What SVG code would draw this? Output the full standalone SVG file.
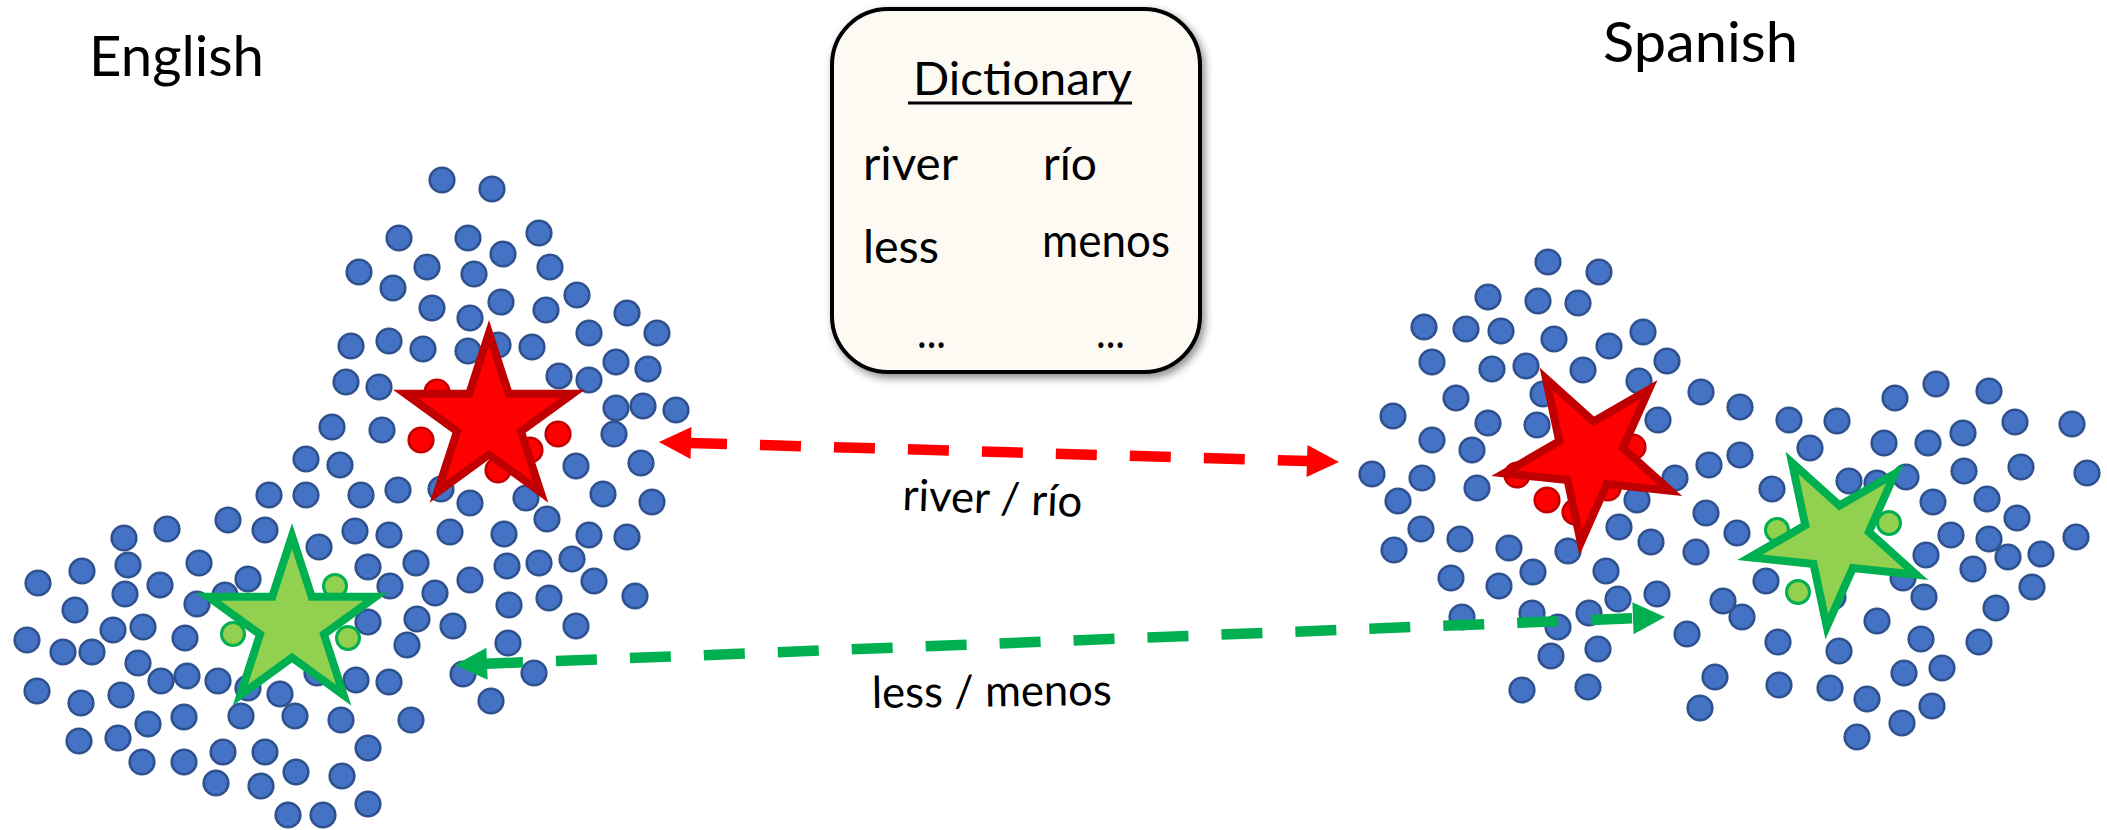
<svg xmlns="http://www.w3.org/2000/svg" xmlns:xlink="http://www.w3.org/1999/xlink" width="2107" height="830" viewBox="0 0 2107 830">
<style>
.d{fill:#4472C4;stroke:#2F528F;stroke-width:2.6}
.rc{fill:#FF0000;stroke:#C00000;stroke-width:2.6}
.gc{fill:#92D050;stroke:#00B050;stroke-width:3}
.rs{fill:#FF0000;stroke:#C00000;stroke-width:8;stroke-linejoin:miter;stroke-miterlimit:10}
.gs{fill:#92D050;stroke:#00B050;stroke-width:8;stroke-linejoin:miter;stroke-miterlimit:10}
text{font-family:Lato,"Open Sans","Liberation Sans",sans-serif;fill:#000}
.title{font-size:57px}
.dict{font-size:47px}
.lbl{font-size:44px}
.dash{fill:none;stroke-width:10.5;stroke-dasharray:41 33;stroke-dashoffset:4}
</style>
<defs>
<path id="star" d="M0,-88 L19.75,-27.18 L83.7,-27.19 L31.96,10.38 L51.73,71.19 L0,33.6 L-51.73,71.19 L-31.96,10.38 L-83.7,-27.19 L-19.75,-27.18 Z"/>
<marker id="hr" markerUnits="userSpaceOnUse" orient="auto-start-reverse" refX="0" refY="0" markerWidth="40" markerHeight="40" overflow="visible"><path d="M-1,-16 L31,0 L-1,16 Z" fill="#FF0000"/></marker>
<marker id="hg" markerUnits="userSpaceOnUse" orient="auto-start-reverse" refX="0" refY="0" markerWidth="40" markerHeight="40" overflow="visible"><path d="M-1,-16 L31,0 L-1,16 Z" fill="#00B050"/></marker>
<filter id="sh" x="-10%" y="-10%" width="130%" height="130%"><feDropShadow dx="3" dy="4" stdDeviation="4" flood-color="#000" flood-opacity="0.45"/></filter>
</defs>
<rect width="2107" height="830" fill="#fff"/>

<g id="english-title"><text class="title" x="89" y="76" textLength="175" lengthAdjust="spacingAndGlyphs">English</text></g>
<g id="spanish-title"><text class="title" x="1603" y="62" textLength="195" lengthAdjust="spacingAndGlyphs">Spanish</text></g>

<g id="dictionary">
<rect x="832" y="9" width="368" height="363" rx="56" ry="56" fill="#FDFAF4" stroke="#000" stroke-width="4" filter="url(#sh)"/>
<text class="dict" x="913" y="95" textLength="219" lengthAdjust="spacingAndGlyphs">Dictionary</text>
<rect x="908" y="101.5" width="224" height="3" fill="#000"/>
<text class="dict" x="863" y="180" textLength="95" lengthAdjust="spacingAndGlyphs">river</text>
<text class="dict" x="1043" y="180" textLength="54" lengthAdjust="spacingAndGlyphs">río</text>
<text class="dict" x="863" y="263" textLength="76" lengthAdjust="spacingAndGlyphs">less</text>
<text class="dict" x="1042" y="257" textLength="128" lengthAdjust="spacingAndGlyphs">menos</text>
<text class="dict" x="917" y="348" textLength="29" lengthAdjust="spacingAndGlyphs">...</text>
<text class="dict" x="1096" y="348" textLength="29" lengthAdjust="spacingAndGlyphs">...</text>
</g>

<g id="english-cloud">
<circle class="d" r="12.3" cx="442" cy="180"/><circle class="d" r="12.3" cx="492" cy="189"/><circle class="d" r="12.3" cx="399" cy="238"/><circle class="d" r="12.3" cx="468" cy="238"/><circle class="d" r="12.3" cx="539" cy="233"/><circle class="d" r="12.3" cx="503" cy="254"/><circle class="d" r="12.3" cx="359" cy="272"/><circle class="d" r="12.3" cx="427" cy="267"/><circle class="d" r="12.3" cx="474" cy="274"/><circle class="d" r="12.3" cx="550" cy="267"/><circle class="d" r="12.3" cx="393" cy="288"/><circle class="d" r="12.3" cx="432" cy="308"/><circle class="d" r="12.3" cx="470" cy="318"/><circle class="d" r="12.3" cx="501" cy="302"/><circle class="d" r="12.3" cx="546" cy="310"/><circle class="d" r="12.3" cx="577" cy="295"/><circle class="d" r="12.3" cx="627" cy="313"/><circle class="d" r="12.3" cx="589" cy="333"/><circle class="d" r="12.3" cx="657" cy="333"/><circle class="d" r="12.3" cx="351" cy="346"/><circle class="d" r="12.3" cx="389" cy="341"/><circle class="d" r="12.3" cx="423" cy="349"/><circle class="d" r="12.3" cx="468" cy="351"/><circle class="d" r="12.3" cx="498" cy="345"/><circle class="d" r="12.3" cx="532" cy="347"/><circle class="d" r="12.3" cx="346" cy="382"/><circle class="d" r="12.3" cx="379" cy="387"/><circle class="d" r="12.3" cx="559" cy="376"/><circle class="d" r="12.3" cx="589" cy="380"/><circle class="d" r="12.3" cx="616" cy="362"/><circle class="d" r="12.3" cx="648" cy="369"/><circle class="d" r="12.3" cx="616" cy="408"/><circle class="d" r="12.3" cx="643" cy="406"/><circle class="d" r="12.3" cx="676" cy="410"/><circle class="d" r="12.3" cx="332" cy="427"/><circle class="d" r="12.3" cx="382" cy="430"/><circle class="d" r="12.3" cx="614" cy="434"/><circle class="d" r="12.3" cx="306" cy="459"/><circle class="d" r="12.3" cx="340" cy="465"/><circle class="d" r="12.3" cx="576" cy="466"/><circle class="d" r="12.3" cx="641" cy="463"/>
<circle class="d" r="12.3" cx="269" cy="495"/><circle class="d" r="12.3" cx="306" cy="495"/><circle class="d" r="12.3" cx="361" cy="495"/><circle class="d" r="12.3" cx="228" cy="520"/><circle class="d" r="12.3" cx="265" cy="530"/><circle class="d" r="12.3" cx="355" cy="531"/><circle class="d" r="12.3" cx="124" cy="538"/><circle class="d" r="12.3" cx="167" cy="529"/><circle class="d" r="12.3" cx="319" cy="547"/><circle class="d" r="12.3" cx="199" cy="563"/><circle class="d" r="12.3" cx="82" cy="571"/><circle class="d" r="12.3" cx="128" cy="565"/><circle class="d" r="12.3" cx="368" cy="567"/><circle class="d" r="12.3" cx="38" cy="583"/><circle class="d" r="12.3" cx="248" cy="579"/><circle class="d" r="12.3" cx="160" cy="585"/><circle class="d" r="12.3" cx="125" cy="594"/><circle class="d" r="12.3" cx="225" cy="595"/><circle class="d" r="12.3" cx="197" cy="604"/><circle class="d" r="12.3" cx="75" cy="610"/><circle class="d" r="12.3" cx="368" cy="622"/><circle class="d" r="12.3" cx="113" cy="630"/><circle class="d" r="12.3" cx="143" cy="627"/><circle class="d" r="12.3" cx="27" cy="640"/><circle class="d" r="12.3" cx="185" cy="638"/><circle class="d" r="12.3" cx="63" cy="652"/><circle class="d" r="12.3" cx="92" cy="652"/><circle class="d" r="12.3" cx="138" cy="663"/><circle class="d" r="12.3" cx="161" cy="681"/><circle class="d" r="12.3" cx="187" cy="676"/><circle class="d" r="12.3" cx="218" cy="681"/><circle class="d" r="12.3" cx="248" cy="688"/><circle class="d" r="12.3" cx="280" cy="694"/><circle class="d" r="12.3" cx="356" cy="680"/><circle class="d" r="12.3" cx="317" cy="673"/><circle class="d" r="12.3" cx="37" cy="691"/><circle class="d" r="12.3" cx="81" cy="703"/><circle class="d" r="12.3" cx="121" cy="695"/><circle class="d" r="12.3" cx="184" cy="717"/><circle class="d" r="12.3" cx="148" cy="724"/><circle class="d" r="12.3" cx="241" cy="716"/><circle class="d" r="12.3" cx="295" cy="716"/><circle class="d" r="12.3" cx="341" cy="720"/><circle class="d" r="12.3" cx="79" cy="741"/><circle class="d" r="12.3" cx="118" cy="738"/><circle class="d" r="12.3" cx="223" cy="752"/><circle class="d" r="12.3" cx="265" cy="752"/><circle class="d" r="12.3" cx="368" cy="748"/><circle class="d" r="12.3" cx="142" cy="762"/><circle class="d" r="12.3" cx="184" cy="762"/><circle class="d" r="12.3" cx="216" cy="783"/><circle class="d" r="12.3" cx="261" cy="786"/><circle class="d" r="12.3" cx="296" cy="772"/><circle class="d" r="12.3" cx="342" cy="776"/><circle class="d" r="12.3" cx="368" cy="804"/><circle class="d" r="12.3" cx="288" cy="815"/><circle class="d" r="12.3" cx="323" cy="815"/>
<circle class="d" r="12.3" cx="398" cy="490"/><circle class="d" r="12.3" cx="441" cy="489"/><circle class="d" r="12.3" cx="470" cy="503"/><circle class="d" r="12.3" cx="526" cy="498"/><circle class="d" r="12.3" cx="603" cy="494"/><circle class="d" r="12.3" cx="652" cy="502"/><circle class="d" r="12.3" cx="389" cy="535"/><circle class="d" r="12.3" cx="450" cy="532"/><circle class="d" r="12.3" cx="504" cy="534"/><circle class="d" r="12.3" cx="547" cy="519"/><circle class="d" r="12.3" cx="589" cy="535"/><circle class="d" r="12.3" cx="627" cy="537"/><circle class="d" r="12.3" cx="416" cy="563"/><circle class="d" r="12.3" cx="390" cy="586"/><circle class="d" r="12.3" cx="435" cy="593"/><circle class="d" r="12.3" cx="470" cy="580"/><circle class="d" r="12.3" cx="507" cy="566"/><circle class="d" r="12.3" cx="539" cy="563"/><circle class="d" r="12.3" cx="572" cy="559"/><circle class="d" r="12.3" cx="594" cy="581"/><circle class="d" r="12.3" cx="635" cy="596"/><circle class="d" r="12.3" cx="509" cy="605"/><circle class="d" r="12.3" cx="549" cy="598"/><circle class="d" r="12.3" cx="417" cy="619"/><circle class="d" r="12.3" cx="453" cy="626"/><circle class="d" r="12.3" cx="576" cy="626"/><circle class="d" r="12.3" cx="407" cy="645"/><circle class="d" r="12.3" cx="508" cy="643"/><circle class="d" r="12.3" cx="463" cy="674"/><circle class="d" r="12.3" cx="534" cy="673"/><circle class="d" r="12.3" cx="491" cy="701"/><circle class="d" r="12.3" cx="389" cy="682"/><circle class="d" r="12.3" cx="411" cy="720"/>
</g>

<g id="spanish-cloud">
<circle class="d" r="12.3" cx="1548" cy="262"/><circle class="d" r="12.3" cx="1599" cy="272"/><circle class="d" r="12.3" cx="1488" cy="297"/><circle class="d" r="12.3" cx="1538" cy="301"/><circle class="d" r="12.3" cx="1578" cy="303"/><circle class="d" r="12.3" cx="1424" cy="327"/><circle class="d" r="12.3" cx="1466" cy="329"/><circle class="d" r="12.3" cx="1501" cy="331"/><circle class="d" r="12.3" cx="1554" cy="339"/><circle class="d" r="12.3" cx="1609" cy="346"/><circle class="d" r="12.3" cx="1643" cy="332"/><circle class="d" r="12.3" cx="1432" cy="362"/><circle class="d" r="12.3" cx="1492" cy="369"/><circle class="d" r="12.3" cx="1526" cy="366"/><circle class="d" r="12.3" cx="1583" cy="370"/><circle class="d" r="12.3" cx="1667" cy="361"/><circle class="d" r="12.3" cx="1639" cy="381"/><circle class="d" r="12.3" cx="1456" cy="398"/><circle class="d" r="12.3" cx="1543" cy="394"/><circle class="d" r="12.3" cx="1701" cy="392"/><circle class="d" r="12.3" cx="1740" cy="407"/><circle class="d" r="12.3" cx="1393" cy="416"/><circle class="d" r="12.3" cx="1488" cy="423"/><circle class="d" r="12.3" cx="1537" cy="425"/><circle class="d" r="12.3" cx="1658" cy="420"/><circle class="d" r="12.3" cx="1432" cy="440"/><circle class="d" r="12.3" cx="1472" cy="450"/><circle class="d" r="12.3" cx="1709" cy="465"/><circle class="d" r="12.3" cx="1740" cy="455"/><circle class="d" r="12.3" cx="1372" cy="474"/><circle class="d" r="12.3" cx="1422" cy="478"/><circle class="d" r="12.3" cx="1477" cy="488"/><circle class="d" r="12.3" cx="1675" cy="478"/><circle class="d" r="12.3" cx="1637" cy="500"/><circle class="d" r="12.3" cx="1706" cy="513"/><circle class="d" r="12.3" cx="1398" cy="501"/>
<circle class="d" r="12.3" cx="1421" cy="529"/><circle class="d" r="12.3" cx="1394" cy="550"/><circle class="d" r="12.3" cx="1460" cy="539"/><circle class="d" r="12.3" cx="1509" cy="548"/><circle class="d" r="12.3" cx="1568" cy="551"/><circle class="d" r="12.3" cx="1619" cy="527"/><circle class="d" r="12.3" cx="1651" cy="542"/><circle class="d" r="12.3" cx="1696" cy="552"/><circle class="d" r="12.3" cx="1737" cy="533"/><circle class="d" r="12.3" cx="1451" cy="578"/><circle class="d" r="12.3" cx="1499" cy="586"/><circle class="d" r="12.3" cx="1533" cy="572"/><circle class="d" r="12.3" cx="1606" cy="571"/><circle class="d" r="12.3" cx="1618" cy="599"/><circle class="d" r="12.3" cx="1657" cy="594"/><circle class="d" r="12.3" cx="1723" cy="601"/><circle class="d" r="12.3" cx="1742" cy="617"/><circle class="d" r="12.3" cx="1462" cy="617"/><circle class="d" r="12.3" cx="1532" cy="613"/><circle class="d" r="12.3" cx="1558" cy="627"/><circle class="d" r="12.3" cx="1589" cy="613"/><circle class="d" r="12.3" cx="1687" cy="634"/><circle class="d" r="12.3" cx="1551" cy="656"/><circle class="d" r="12.3" cx="1598" cy="649"/><circle class="d" r="12.3" cx="1715" cy="677"/><circle class="d" r="12.3" cx="1522" cy="690"/><circle class="d" r="12.3" cx="1588" cy="687"/><circle class="d" r="12.3" cx="1700" cy="708"/>
<circle class="d" r="12.3" cx="1789" cy="420"/><circle class="d" r="12.3" cx="1837" cy="421"/><circle class="d" r="12.3" cx="1810" cy="448"/><circle class="d" r="12.3" cx="1895" cy="398"/><circle class="d" r="12.3" cx="1936" cy="384"/><circle class="d" r="12.3" cx="1989" cy="391"/><circle class="d" r="12.3" cx="1884" cy="443"/><circle class="d" r="12.3" cx="1928" cy="443"/><circle class="d" r="12.3" cx="1963" cy="433"/><circle class="d" r="12.3" cx="2015" cy="422"/><circle class="d" r="12.3" cx="2072" cy="424"/><circle class="d" r="12.3" cx="1772" cy="489"/><circle class="d" r="12.3" cx="1849" cy="481"/><circle class="d" r="12.3" cx="1877" cy="483"/><circle class="d" r="12.3" cx="1906" cy="477"/><circle class="d" r="12.3" cx="1964" cy="471"/><circle class="d" r="12.3" cx="2021" cy="467"/><circle class="d" r="12.3" cx="2087" cy="473"/><circle class="d" r="12.3" cx="1933" cy="502"/><circle class="d" r="12.3" cx="1987" cy="499"/><circle class="d" r="12.3" cx="2017" cy="518"/><circle class="d" r="12.3" cx="1951" cy="535"/><circle class="d" r="12.3" cx="1989" cy="539"/><circle class="d" r="12.3" cx="2008" cy="557"/><circle class="d" r="12.3" cx="2041" cy="554"/><circle class="d" r="12.3" cx="2076" cy="537"/><circle class="d" r="12.3" cx="1926" cy="555"/><circle class="d" r="12.3" cx="1973" cy="569"/><circle class="d" r="12.3" cx="1903" cy="578"/><circle class="d" r="12.3" cx="1766" cy="581"/><circle class="d" r="12.3" cx="1924" cy="597"/><circle class="d" r="12.3" cx="2032" cy="587"/><circle class="d" r="12.3" cx="1996" cy="608"/><circle class="d" r="12.3" cx="1877" cy="621"/><circle class="d" r="12.3" cx="1833" cy="597"/><circle class="d" r="12.3" cx="1778" cy="642"/><circle class="d" r="12.3" cx="1839" cy="651"/><circle class="d" r="12.3" cx="1921" cy="639"/><circle class="d" r="12.3" cx="1979" cy="642"/><circle class="d" r="12.3" cx="1779" cy="685"/><circle class="d" r="12.3" cx="1830" cy="688"/><circle class="d" r="12.3" cx="1867" cy="699"/><circle class="d" r="12.3" cx="1904" cy="673"/><circle class="d" r="12.3" cx="1942" cy="668"/><circle class="d" r="12.3" cx="1932" cy="706"/><circle class="d" r="12.3" cx="1902" cy="723"/><circle class="d" r="12.3" cx="1857" cy="737"/>
</g>

<g id="english-river">
<circle class="rc" r="12.3" cx="437" cy="392"/><circle class="rc" r="12.3" cx="421" cy="440"/><circle class="rc" r="12.3" cx="558" cy="434"/><circle class="rc" r="12.3" cx="530" cy="450"/><circle class="rc" r="12.3" cx="498" cy="470"/>
<use xlink:href="#star" href="#star" class="rs" transform="translate(489 421)"/>
</g>
<g id="english-less">
<circle class="gc" r="11.5" cx="335" cy="586"/><circle class="gc" r="11.5" cx="233" cy="634"/><circle class="gc" r="11.5" cx="348" cy="638"/>
<use xlink:href="#star" href="#star" class="gs" transform="translate(292 624)"/>
</g>
<g id="spanish-rio">
<circle class="rc" r="12.3" cx="1633" cy="447"/><circle class="rc" r="12.3" cx="1517" cy="475"/><circle class="rc" r="12.3" cx="1547" cy="500"/><circle class="rc" r="12.3" cx="1575" cy="512"/><circle class="rc" r="12.3" cx="1608" cy="488"/>
<use xlink:href="#star" href="#star" class="rs" transform="translate(1590 455) rotate(-30)"/>
</g>
<g id="spanish-menos">
<circle class="gc" r="11.5" cx="1777" cy="530"/><circle class="gc" r="11.5" cx="1889" cy="523"/><circle class="gc" r="11.5" cx="1798" cy="592"/>
<use xlink:href="#star" href="#star" class="gs" transform="translate(1836 539) rotate(-30)"/>
</g>

<g id="connectors">
<path class="dash" stroke="#FF0000" d="M690,442.9 L1308,461.1" marker-start="url(#hr)" marker-end="url(#hr)"/>
<path class="dash" stroke="#00B050" d="M486,663.8 L1634,618.2" marker-start="url(#hg)" marker-end="url(#hg)"/>
<text class="lbl" x="902" y="513.5" textLength="180" lengthAdjust="spacingAndGlyphs" transform="rotate(2.2 992 513.5)">river / río</text>
<text class="lbl" x="872" y="706.5" textLength="240" lengthAdjust="spacingAndGlyphs" transform="rotate(-0.7 992 706.5)">less / menos</text>
</g>
</svg>
